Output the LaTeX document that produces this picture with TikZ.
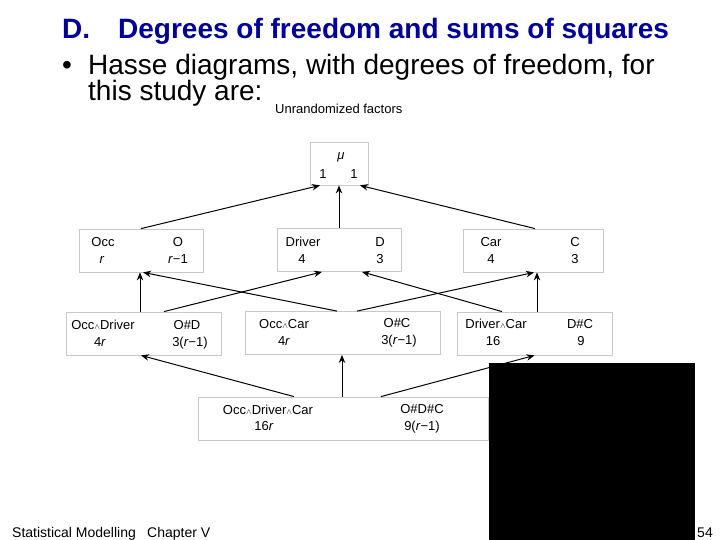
\documentclass[tikz,border=0pt]{standalone}
\usepackage{fontspec}
\setmainfont{Liberation Sans}
\usetikzlibrary{arrows.meta,calc}
\definecolor{titleblue}{RGB}{0,0,153}
\definecolor{boxgray}{RGB}{200,200,200}
\newcommand{\wdg}{\raisebox{0.3pt}{\fontsize{8}{8}\selectfont$\wedge$}}
\newcommand{\ri}{\textit{r}}
\begin{document}
\begin{tikzpicture}[x=1pt,y=-1pt,
  box/.style={draw=boxgray, line width=0.8pt, minimum width=#1, minimum height=43pt, inner sep=0pt, fill=white},
  box/.default=100pt,
  lbl/.style={font=\fontsize{13}{13}\selectfont, inner sep=0pt, anchor=base},
  arr/.style={line width=1pt, -{Stealth[length=8pt,width=6.5pt]}},
  ttl/.style={font=\fontsize{28}{28}\selectfont\bfseries, text=titleblue, inner sep=0pt, anchor=base west},
  txt/.style={font=\fontsize{28}{28}\selectfont, inner sep=0pt, anchor=base west},
  foot/.style={font=\fontsize{14}{14}\selectfont, inner sep=0pt, anchor=base west},
]
\useasboundingbox (0,0) rectangle (720,540);
\fill[white] (0,0) rectangle (720,540);

% title and text
\node[ttl] (tD) at (62,39) {D.};
\node[ttl] (tT) at (118,39) {Degrees of freedom and sums of squares};
\node[txt] (bul) at (62,75) {•};
\node[txt] (l1) at (88,75) {Hasse diagrams, with degrees of freedom, for};
\node[txt] (l2) at (88,101) {this study are:};
\node[font=\fontsize{13}{13}\selectfont, inner sep=0pt, anchor=base west] (unr) at (275,114) {Unrandomized factors};

% boxes
\node[box=58pt]  (mu)  at (339,163.5) {};
\node[box=124pt] (occ) at (141,250.5) {};
\node[box=124pt] (drv) at (339,250) {};
\node[box=140pt] (car) at (533,250.5) {};
\node[box=155pt] (od)  at (143.5,333.5) {};
\node[box=195pt] (oc)  at (342.5,333) {};
\node[box=155pt] (dc)  at (534.5,333.5) {};
\node[box=290pt] (odc) at (343,418.5) {};

% labels
\node[lbl] (muA) at (341,160) {\itshape μ};
\node[lbl] (muB) at (323,178.5) {1};
\node[lbl] (muC) at (354,178.5) {1};

\node[lbl] (occA) at (103,246.5) {Occ};
\node[lbl] (occB) at (102,263.5) {\ri};
\node[lbl] (occC) at (178,246.5) {O};
\node[lbl] (occD) at (178,263.5) {\ri−1};

\node[lbl] (drvA) at (303,246.5) {Driver};
\node[lbl] (drvB) at (302,263.5) {4};
\node[lbl] (drvC) at (380,246.5) {D};
\node[lbl] (drvD) at (380,263.5) {3};

\node[lbl] (carA) at (491,246.5) {Car};
\node[lbl] (carB) at (491,263.5) {4};
\node[lbl] (carC) at (575,246.5) {C};
\node[lbl] (carD) at (575,263.5) {3};

\node[lbl] (odA) at (103,329.5) {Occ\wdg Driver};
\node[lbl] (odB) at (100,346) {4\ri};
\node[lbl] (odC) at (187,329.5) {O\#D};
\node[lbl] (odD) at (190,346.5) {3(\ri−1)};

\node[lbl] (ocA) at (284,328.5) {Occ\wdg Car};
\node[lbl] (ocB) at (284,345.5) {4\ri};
\node[lbl] (ocC) at (397,327) {O\#C};
\node[lbl] (ocD) at (399,344.5) {3(\ri−1)};

\node[lbl] (dcA) at (496,328.5) {Driver\wdg Car};
\node[lbl] (dcB) at (493,345.5) {16};
\node[lbl] (dcC) at (580,328.5) {D\#C};
\node[lbl] (dcD) at (581,345.5) {9};

\node[lbl] (odcA) at (268,414.5) {Occ\wdg Driver\wdg Car};
\node[lbl] (odcB) at (264,430) {16\ri};
\node[lbl] (odcC) at (422,413) {O\#D\#C};
\node[lbl] (odcD) at (422,430.5) {9(\ri−1)};

% arrows
\draw[arr] (occ.north) -- ([xshift=-19pt]mu.south);
\draw[arr] (drv.north) -- (mu.south);
\draw[arr] ([xshift=2pt]car.north) -- ([xshift=21pt]mu.south);
\draw[arr] ([xshift=-3.5pt]od.north) -- ([xshift=-1pt]occ.south);
\draw[arr] ([xshift=20.5pt]od.north) -- ([xshift=-17pt]drv.south);
\draw[arr] ([xshift=-5.5pt]oc.north) -- ([xshift=2pt]occ.south);
\draw[arr] ([xshift=14.5pt]oc.north) -- ([xshift=1pt]car.south);
\draw[arr] ([xshift=-32.5pt]dc.north) -- ([xshift=23pt]drv.south);
\draw[arr] ([xshift=2.5pt]dc.north) -- ([xshift=4pt]car.south);
\draw[arr] ([xshift=-49pt]odc.north) -- ([xshift=-2.5pt]od.south);
\draw[arr] ([xshift=-1pt]odc.north) -- ([xshift=-0.5pt]oc.south);
\draw[arr] ([xshift=38pt]odc.north) -- (dc.south);

% black block
\fill[black] (489,363) rectangle (695,540);

% footer
\node[foot] (f1) at (12,537) {Statistical Modelling};
\node[foot] (f2) at (147,537) {Chapter V};
\node[foot, anchor=base east] (f3) at (713,537) {54};
\end{tikzpicture}
\end{document}
